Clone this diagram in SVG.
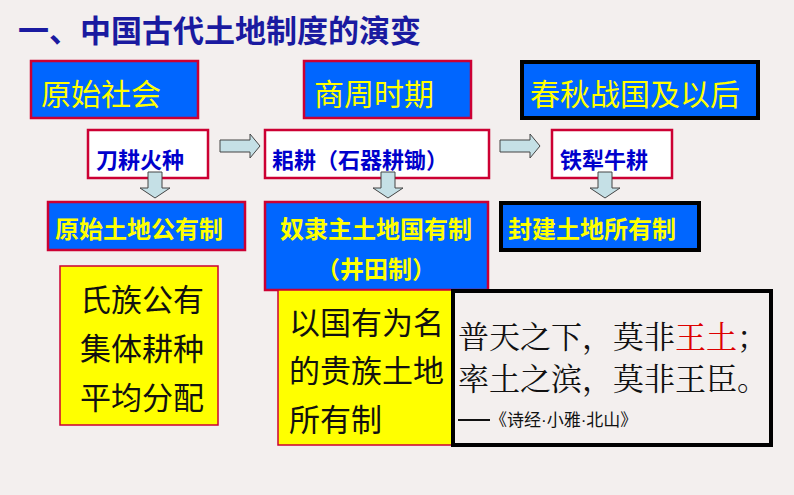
<svg xmlns="http://www.w3.org/2000/svg" width="794" height="495" viewBox="0 0 794 495">
<style>
.s{font-family:"Liberation Sans","Noto Sans CJK SC",sans-serif}
.b{fill:#0066ff;stroke:#cc0033;stroke-width:2.5}
.k{fill:#0066ff;stroke:#000;stroke-width:4}
.w{fill:#fff;stroke:#cc0033;stroke-width:2.5}
.y{fill:#ffff00;stroke:#cc0033;stroke-width:1.5}
.yt{fill:#ffff00;font-size:30px}
.yt2{fill:#ffff00;font-size:24px;font-weight:bold}
.bt{fill:#0000cc;font-size:22px;font-weight:bold}
.kt{fill:#111;font-size:31px}
.ar{fill:#c5e0e6;stroke:#444;stroke-width:1}
.q{font-family:"Noto Serif CJK SC","Liberation Serif","Noto Sans CJK SC",serif;font-size:31px;fill:#111}
</style>
<rect width="794" height="495" fill="#f3efee"/>
<text class="s" x="18" y="42" font-size="31" font-weight="bold" fill="#1a1aa0">一、中国古代土地制度的演变</text>
<g id="n1"><rect class="b" x="31" y="61" width="167" height="57"/><text class="s yt" x="41" y="105">原始社会</text></g>
<g id="n2"><rect class="b" x="304" y="61" width="167" height="57"/><text class="s yt" x="314" y="105">商周时期</text></g>
<g id="n3"><rect class="k" x="522" y="62" width="236" height="56"/><text class="s yt" x="530" y="105">春秋战国及以后</text></g>
<g id="n4"><rect class="w" x="88" y="130" width="120" height="48"/><text class="s bt" x="96" y="168">刀耕火种</text></g>
<g id="n5"><rect class="w" x="265" y="130" width="224" height="48"/><text class="s bt" x="272" y="168">耜耕（石器耕锄）</text></g>
<g id="n6"><rect class="w" x="552" y="130" width="120" height="48"/><text class="s bt" x="560" y="168">铁犁牛耕</text></g>
<g id="connectors">
<path class="ar" d="M220,140 h30 v-6 l10,12 l-10,12 v-6 h-30 z"/>
<path class="ar" d="M500,140 h30 v-6 l10,12 l-10,12 v-6 h-30 z"/>
<path class="ar" d="M148,172 h14 v16 h8 l-15,10 l-15,-10 h8 z"/>
<path class="ar" d="M381,172 h14 v16 h8 l-15,10 l-15,-10 h8 z"/>
<path class="ar" d="M598,172 h14 v16 h8 l-15,10 l-15,-10 h8 z"/>
</g>
<g id="n7"><rect class="b" x="48" y="202" width="197" height="48"/><text class="s yt2" x="55" y="238">原始土地公有制</text></g>
<g id="n8"><rect class="b" x="265" y="202" width="223" height="88"/><text class="s yt2" x="376" y="238" text-anchor="middle">奴隶主土地国有制</text><text class="s yt2" x="376" y="278" text-anchor="middle">（井田制）</text></g>
<g id="n9"><rect class="k" x="501" y="203" width="198" height="47"/><text class="s yt2" x="508" y="238">封建土地所有制</text></g>
<g id="n10"><rect class="y" x="60" y="266" width="158" height="159"/><text class="s kt" x="80" y="311">氏族公有</text><text class="s kt" x="80" y="360">集体耕种</text><text class="s kt" x="80" y="409">平均分配</text></g>
<g id="n11"><rect class="y" x="278" y="290" width="174" height="155"/><text class="s kt" x="289" y="334">以国有为名</text><text class="s kt" x="289" y="382">的贵族土地</text><text class="s kt" x="289" y="431">所有制</text></g>
<g id="n12"><rect x="453" y="291" width="318" height="154" fill="#f3efee" stroke="#000" stroke-width="4"/>
<text class="q" x="458" y="348">普天之下，莫非<tspan fill="#dd0000">王土</tspan>；</text>
<text class="q" x="458" y="390">率土之滨，莫非王臣。</text>
<line x1="458" y1="420" x2="490" y2="420" stroke="#111" stroke-width="2"/>
<text class="s" x="490" y="426" font-size="17" fill="#111">《诗经·小雅·北山》</text></g>
</svg>
